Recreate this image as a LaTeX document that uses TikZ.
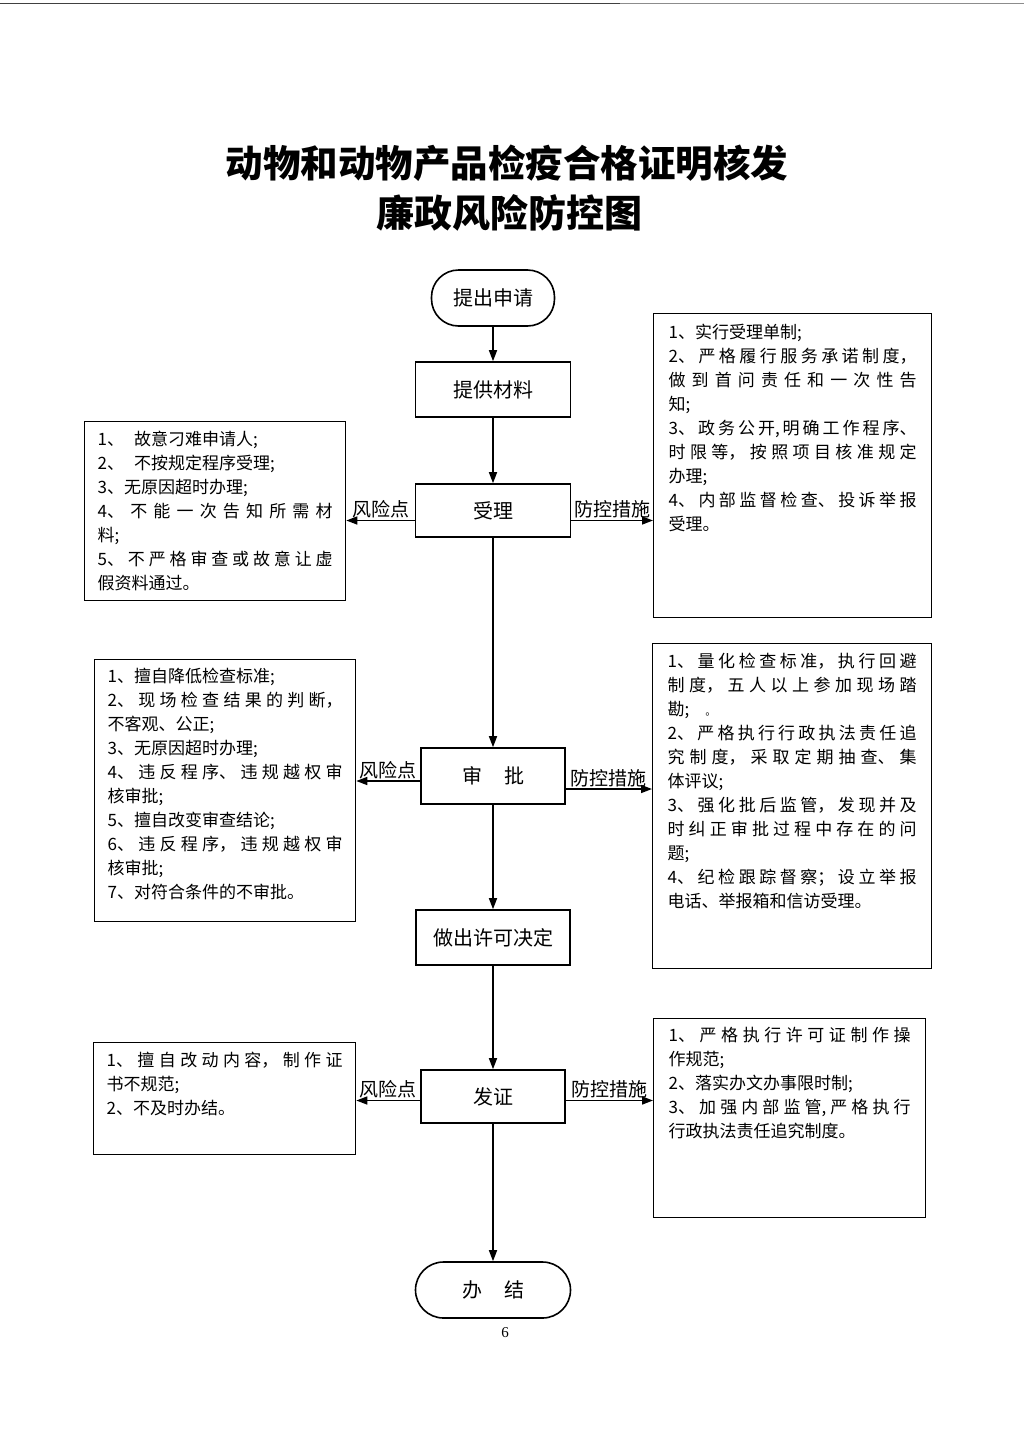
\documentclass[tikz,border=0pt]{standalone}
\usepackage{fontspec}
\setmainfont{Noto Sans CJK SC}
\newfontfamily\numfont{Liberation Serif}
\usetikzlibrary{arrows.meta,calc}
\XeTeXlinebreaklocale "zh"
\XeTeXlinebreakskip=0pt plus 1pt
\tolerance=10000
\hbadness=10000
\newcommand{\sidetext}[3]{\parbox[c][#2][t]{#1}{\fontsize{17}{24}\selectfont\tolerance=10000\hbadness=10000 #3}}
\tikzset{
  flowbox/.style={draw, line width=1.6pt, inner sep=0pt, font=\fontsize{20}{22}\selectfont},
  sidebox/.style={draw, line width=1.3pt, anchor=north west, inner ysep=9pt, inner xsep=13pt},
  flowarr/.style={line width=1.5pt, -{Triangle[length=11pt,width=8pt]}},
  arrlabel/.style={font=\fontsize{19}{22}\selectfont, inner sep=1.5pt},
}
\begin{document}
\begin{tikzpicture}[x=1pt,y=-1pt]
\useasboundingbox (0,0) rectangle (1024,1448);
% scan line at top
\draw[line width=1pt, black!75] (0,3) -- (620,3);
\draw[line width=0.8pt, black!45] (620,3) -- (1024,3);
% title
\node (t1) at (507,163) {\fontsize{37.5}{40}\selectfont\bfseries 动物和动物产品检疫合格证明核发};
\node (t2) at (509,213) {\fontsize{38}{40}\selectfont\bfseries 廉政风险防控图};
% flow nodes
\node[flowbox, minimum width=123pt, minimum height=56pt, rounded corners=27pt] (n1) at (493,298) {提出申请};
\node[flowbox, minimum width=155pt, minimum height=55pt] (n2) at (493,389.5) {提供材料};
\node[flowbox, minimum width=155pt, minimum height=53pt] (n3) at (493,510.5) {受理};
\node[flowbox, minimum width=144pt, minimum height=56pt] (n4) at (493,776) {审\hspace{22pt}批};
\node[flowbox, minimum width=154pt, minimum height=55pt] (n5) at (493,937.5) {做出许可决定};
\node[flowbox, minimum width=144pt, minimum height=53pt] (n6) at (493,1096.5) {发证};
\node[flowbox, minimum width=155pt, minimum height=56pt, rounded corners=28pt] (n7) at (493,1290) {办\hspace{22pt}结};
% side boxes
\node[sidebox] (l1) at (84,421) {\sidetext{235pt}{161pt}{%
1、\hspace{10pt}故意刁难申请人;\par
2、\hspace{10pt}不按规定程序受理;\par
3、无原因超时办理;\par
4、不能一次告知所需材\linebreak 料;\par
5、不严格审查或故意让虚\linebreak 假资料通过。}};
\node[sidebox, inner xsep=15pt, inner ysep=10pt] (r1) at (653,313) {\sidetext{248pt}{284pt}{%
1、实行受理单制;\par
2、严格履行服务承诺制度，\linebreak 做到首问责任和一次性告\linebreak 知;\par
3、政务公开,明确工作程序、\linebreak 时限等，按照项目核准规定\linebreak 办理;\par
4、内部监督检查、投诉举报\linebreak 受理。}};
\node[sidebox, inner ysep=8pt] (l2) at (94,659) {\sidetext{235pt}{246pt}{%
1、擅自降低检查标准;\par
2、现场检查结果的判断，\linebreak 不客观、公正;\par
3、无原因超时办理;\par
4、违反程序、违规越权审\linebreak 核审批;\par
5、擅自改变审查结论;\par
6、违反程序，违规越权审\linebreak 核审批;\par
7、对符合条件的不审批。}};
\node[sidebox, inner xsep=15pt] (r2) at (652,643) {\sidetext{249pt}{307pt}{%
1、量化检查标准，执行回避\linebreak 制度，五人以上参加现场踏\linebreak 勘;\hspace{16pt}{\fontsize{11}{11}\selectfont 。}\par
2、严格执行行政执法责任追\linebreak 究制度，采取定期抽查、集\linebreak 体评议;\par
3、强化批后监管，发现并及\linebreak 时纠正审批过程中存在的问\linebreak 题;\par
4、纪检跟踪督察；设立举报\linebreak 电话、举报箱和信访受理。}};
\node[sidebox] (l3) at (93,1042) {\sidetext{236pt}{94pt}{%
1、擅自改动内容，制作证\linebreak 书不规范;\par
2、不及时办结。}};
\node[sidebox, inner xsep=15pt] (r3) at (653,1018) {\sidetext{242pt}{181pt}{%
1、严格执行许可证制作操\linebreak 作规范;\par
2、落实办文办事限时制;\par
3、加强内部监管,严格执行\linebreak 行政执法责任追究制度。}};
% main flow arrows
\draw[flowarr] (n1) -- (n2);
\draw[flowarr] (n2) -- (n3);
\draw[flowarr] (n3) -- (n4);
\draw[flowarr] (n4) -- (n5);
\draw[flowarr] (n5) -- (n6);
\draw[flowarr] (n6) -- (n7);
% side arrows
\draw[flowarr] ([yshift=-10pt]n3.west) -- ([yshift=-10pt]n3.west -| l1.east) node[arrlabel, midway, above]{风险点};
\draw[flowarr] ([yshift=-10pt]n3.east) -- ([yshift=-10pt]n3.east -| r1.west) node[arrlabel, midway, above]{防控措施};
\draw[flowarr] ([yshift=-5pt]n4.west) -- ([yshift=-5pt]n4.west -| l2.east) node[arrlabel, midway, above]{风险点};
\draw[flowarr] ([yshift=-13pt]n4.east) -- ([yshift=-13pt]n4.east -| r2.west) node[arrlabel, midway, above]{防控措施};
\draw[flowarr] ([yshift=-4pt]n6.west) -- ([yshift=-4pt]n6.west -| l3.east) node[arrlabel, midway, above]{风险点};
\draw[flowarr] ([yshift=-4pt]n6.east) -- ([yshift=-4pt]n6.east -| r3.west) node[arrlabel, midway, above]{防控措施};
% page number
\node (pg) at (505,1333) {\numfont\fontsize{15}{18}\selectfont 6};
\end{tikzpicture}
\end{document}
